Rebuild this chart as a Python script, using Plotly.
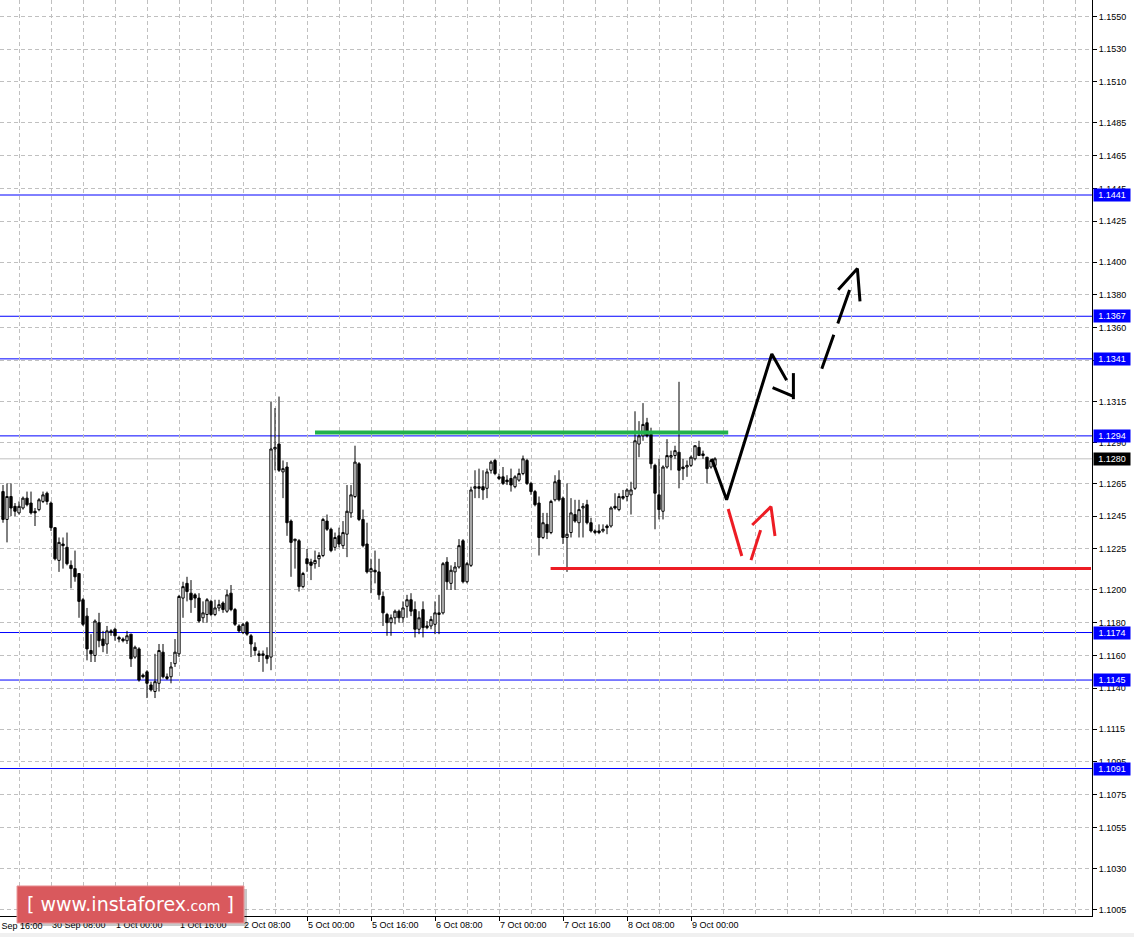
import plotly.graph_objects as go

# bar index: 0 = 29 Sep 16:00, one bar per hour (weekend skipped)
BAR_START = 4
OPEN = [
    1.1260, 1.1243, 1.1257, 1.1251, 1.1247, 1.1250, 1.1256, 1.1253, 1.1248, 1.1249,
    1.1254, 1.1259, 1.1253, 1.1238, 1.1218, 1.1228, 1.1226, 1.1215, 1.1213, 1.1210,
    1.1194, 1.1184, 1.1163, 1.1160, 1.1180, 1.1170, 1.1167, 1.1175, 1.1176, 1.1171,
    1.1170, 1.1169, 1.1173, 1.1159, 1.1164, 1.1148, 1.1150, 1.1142, 1.1138, 1.1143,
    1.1162, 1.1147, 1.1147, 1.1155, 1.1161, 1.1195, 1.1204, 1.1198, 1.1197, 1.1195,
    1.1183, 1.1185, 1.1193, 1.1185, 1.1189, 1.1192, 1.1187, 1.1198, 1.1188, 1.1178,
    1.1174, 1.1180, 1.1172, 1.1165, 1.1161, 1.1160, 1.1160, 1.1159, 1.1286, 1.1289,
    1.1272, 1.1275, 1.1242, 1.1230, 1.1230, 1.1202, 1.1219, 1.1217, 1.1216, 1.1219,
    1.1221, 1.1242, 1.1237, 1.1226, 1.1233, 1.1227, 1.1234, 1.1247, 1.1257, 1.1277,
    1.1243, 1.1228, 1.1211, 1.1212, 1.1211, 1.1196, 1.1185, 1.1180, 1.1183, 1.1187,
    1.1183, 1.1190, 1.1194, 1.1188, 1.1176, 1.1188, 1.1177, 1.1178, 1.1179, 1.1185,
    1.1186, 1.1217, 1.1204, 1.1211, 1.1214, 1.1230, 1.1205, 1.1215, 1.1262, 1.1263,
    1.1263, 1.1262, 1.1273, 1.1279, 1.1269, 1.1269, 1.1267, 1.1268, 1.1263, 1.1267,
    1.1271, 1.1279, 1.1265, 1.1260, 1.1253, 1.1232, 1.1240, 1.1235, 1.1255, 1.1267,
    1.1256, 1.1232, 1.1235, 1.1246, 1.1241, 1.1250, 1.1252, 1.1241, 1.1235, 1.1236,
    1.1236, 1.1239, 1.1239, 1.1251, 1.1249, 1.1257, 1.1257, 1.1258, 1.1262, 1.1289,
    1.1294, 1.1302, 1.1295, 1.1276, 1.1258, 1.1248, 1.1275, 1.1281, 1.1282, 1.1284,
    1.1275, 1.1275, 1.1276, 1.1280, 1.1287, 1.1283, 1.1281, 1.1275, 1.1276,
]
HIGH = [
    1.1264, 1.1265, 1.1265, 1.1253, 1.1254, 1.1257, 1.1260, 1.1260, 1.1250, 1.1256,
    1.1260, 1.1260, 1.1254, 1.1238, 1.1232, 1.1232, 1.1235, 1.1218, 1.1224, 1.1210,
    1.1195, 1.1189, 1.1173, 1.1182, 1.1186, 1.1175, 1.1178, 1.1176, 1.1177, 1.1172,
    1.1171, 1.1175, 1.1173, 1.1166, 1.1165, 1.1149, 1.1151, 1.1144, 1.1161, 1.1167,
    1.1167, 1.1149, 1.1156, 1.1170, 1.1197, 1.1205, 1.1208, 1.1206, 1.1198, 1.1198,
    1.1193, 1.1195, 1.1194, 1.1194, 1.1194, 1.1193, 1.1200, 1.1203, 1.1189, 1.1179,
    1.1180, 1.1181, 1.1173, 1.1168, 1.1163, 1.1163, 1.1165, 1.1315, 1.1311, 1.1318,
    1.1279, 1.1278, 1.1243, 1.1231, 1.1231, 1.1211, 1.1225, 1.1219, 1.1224, 1.1223,
    1.1244, 1.1246, 1.1238, 1.1235, 1.1238, 1.1242, 1.1264, 1.1264, 1.1288, 1.1278,
    1.1249, 1.1241, 1.1219, 1.1224, 1.1219, 1.1199, 1.1186, 1.1185, 1.1188, 1.1188,
    1.1193, 1.1197, 1.1198, 1.1193, 1.1187, 1.1193, 1.1181, 1.1184, 1.1193, 1.1197,
    1.1217, 1.1220, 1.1215, 1.1217, 1.1231, 1.1231, 1.1217, 1.1263, 1.1273, 1.1274,
    1.1273, 1.1274, 1.1279, 1.1280, 1.1271, 1.1275, 1.1270, 1.1274, 1.1270, 1.1274,
    1.1282, 1.1280, 1.1266, 1.1261, 1.1257, 1.1247, 1.1247, 1.1255, 1.1270, 1.1273,
    1.1257, 1.1265, 1.1256, 1.1255, 1.1255, 1.1253, 1.1255, 1.1244, 1.1237, 1.1240,
    1.1240, 1.1240, 1.1251, 1.1259, 1.1259, 1.1261, 1.1262, 1.1266, 1.1309, 1.1303,
    1.1314, 1.1305, 1.1299, 1.1277, 1.1280, 1.1276, 1.1292, 1.1285, 1.1288, 1.1327,
    1.1280, 1.1279, 1.1282, 1.1288, 1.1291, 1.1285, 1.1281, 1.1280, 1.1281,
]
LOW = [
    1.1241, 1.1229, 1.1245, 1.1245, 1.1246, 1.1249, 1.1251, 1.1246, 1.1239, 1.1248,
    1.1253, 1.1252, 1.1236, 1.1218, 1.1211, 1.1213, 1.1215, 1.1201, 1.1205, 1.1183,
    1.1178, 1.1157, 1.1156, 1.1156, 1.1165, 1.1162, 1.1161, 1.1172, 1.1169, 1.1168,
    1.1168, 1.1167, 1.1153, 1.1158, 1.1144, 1.1146, 1.1134, 1.1138, 1.1134, 1.1138,
    1.1146, 1.1145, 1.1143, 1.1153, 1.1159, 1.1183, 1.1193, 1.1186, 1.1189, 1.1180,
    1.1180, 1.1180, 1.1184, 1.1184, 1.1187, 1.1186, 1.1186, 1.1187, 1.1178, 1.1174,
    1.1173, 1.1172, 1.1159, 1.1160, 1.1156, 1.1150, 1.1155, 1.1151, 1.1273, 1.1272,
    1.1256, 1.1233, 1.1208, 1.1213, 1.1199, 1.1201, 1.1211, 1.1206, 1.1213, 1.1214,
    1.1220, 1.1236, 1.1223, 1.1224, 1.1226, 1.1225, 1.1220, 1.1244, 1.1256, 1.1242,
    1.1226, 1.1210, 1.1198, 1.1204, 1.1194, 1.1178, 1.1172, 1.1172, 1.1179, 1.1180,
    1.1180, 1.1183, 1.1184, 1.1171, 1.1173, 1.1171, 1.1176, 1.1176, 1.1173, 1.1173,
    1.1185, 1.1200, 1.1200, 1.1200, 1.1213, 1.1204, 1.1204, 1.1214, 1.1256, 1.1256,
    1.1255, 1.1256, 1.1271, 1.1270, 1.1267, 1.1264, 1.1264, 1.1260, 1.1262, 1.1266,
    1.1270, 1.1264, 1.1258, 1.1251, 1.1221, 1.1231, 1.1231, 1.1234, 1.1254, 1.1254,
    1.1228, 1.1211, 1.1232, 1.1241, 1.1232, 1.1232, 1.1240, 1.1235, 1.1234, 1.1234,
    1.1235, 1.1234, 1.1238, 1.1249, 1.1248, 1.1255, 1.1254, 1.1246, 1.1261, 1.1281,
    1.1291, 1.1293, 1.1274, 1.1237, 1.1243, 1.1243, 1.1274, 1.1273, 1.1280, 1.1262,
    1.1267, 1.1269, 1.1275, 1.1279, 1.1282, 1.1280, 1.1265, 1.1274, 1.1275,
]
CLOSE = [
    1.1243, 1.1257, 1.1250, 1.1248, 1.1251, 1.1256, 1.1252, 1.1247, 1.1247, 1.1255,
    1.1258, 1.1254, 1.1238, 1.1219, 1.1229, 1.1227, 1.1216, 1.1213, 1.1208, 1.1193,
    1.1179, 1.1164, 1.1161, 1.1181, 1.1169, 1.1166, 1.1175, 1.1174, 1.1172, 1.1170,
    1.1169, 1.1172, 1.1158, 1.1165, 1.1145, 1.1147, 1.1143, 1.1139, 1.1144, 1.1163,
    1.1147, 1.1146, 1.1153, 1.1162, 1.1196, 1.1202, 1.1199, 1.1194, 1.1195, 1.1181,
    1.1186, 1.1194, 1.1185, 1.1189, 1.1191, 1.1188, 1.1197, 1.1188, 1.1179, 1.1175,
    1.1179, 1.1173, 1.1167, 1.1163, 1.1160, 1.1161, 1.1158, 1.1286, 1.1287, 1.1273,
    1.1274, 1.1241, 1.1229, 1.1231, 1.1202, 1.1210, 1.1216, 1.1215, 1.1218, 1.1221,
    1.1243, 1.1237, 1.1224, 1.1232, 1.1228, 1.1235, 1.1248, 1.1258, 1.1278, 1.1243,
    1.1227, 1.1211, 1.1213, 1.1211, 1.1197, 1.1186, 1.1180, 1.1183, 1.1187, 1.1183,
    1.1189, 1.1194, 1.1187, 1.1176, 1.1183, 1.1177, 1.1178, 1.1182, 1.1186, 1.1186,
    1.1216, 1.1205, 1.1212, 1.1214, 1.1227, 1.1205, 1.1216, 1.1261, 1.1263, 1.1262,
    1.1261, 1.1272, 1.1278, 1.1271, 1.1268, 1.1265, 1.1266, 1.1264, 1.1269, 1.1271,
    1.1280, 1.1265, 1.1260, 1.1252, 1.1232, 1.1241, 1.1235, 1.1254, 1.1266, 1.1255,
    1.1232, 1.1234, 1.1247, 1.1242, 1.1249, 1.1251, 1.1241, 1.1236, 1.1236, 1.1235,
    1.1237, 1.1238, 1.1250, 1.1250, 1.1257, 1.1256, 1.1261, 1.1261, 1.1291, 1.1294,
    1.1301, 1.1294, 1.1277, 1.1259, 1.1249, 1.1275, 1.1282, 1.1282, 1.1285, 1.1273,
    1.1274, 1.1276, 1.1281, 1.1288, 1.1282, 1.1282, 1.1274, 1.1279, 1.1280,
]

BLUE_LEVELS = [1.1441, 1.1367, 1.1341, 1.1294, 1.1174, 1.1145, 1.1091]
LAST_PRICE = 1.1280

PRICE_TICKS = [1.1550, 1.1530, 1.1510, 1.1485, 1.1465, 1.1445, 1.1425, 1.1400, 1.1380,
               1.1360, 1.1340, 1.1315, 1.1290, 1.1265, 1.1245, 1.1225, 1.1200, 1.1180,
               1.1160, 1.1140, 1.1115, 1.1095, 1.1075, 1.1055, 1.1030, 1.1005]
TIME_LABELS = ['29 Sep 16:00', '30 Sep 08:00', '1 Oct 00:00', '1 Oct 16:00', '2 Oct 08:00',
               '5 Oct 00:00', '5 Oct 16:00', '6 Oct 08:00', '7 Oct 00:00', '7 Oct 16:00',
               '8 Oct 08:00', '9 Oct 00:00']
TIME_STEP = 16

# analyst drawings (bar index, price)
GREEN_LINE = ([82, 185.3], [1.1296, 1.1296])
RED_LINE = ([140.9, 276], [1.1213, 1.1213])
BLACK_PATH = ([181.2, 184.9, 196.2, 199.9, None, 196.4, 201.75, None, 201.6, 201.6],
              [1.1280, 1.1255, 1.1344, 1.1328, None, 1.13235, 1.1318, None, 1.13323, 1.13164])
BLACK_DASH = ([208.7, 215.65], [1.1335, 1.1383])
BLACK_DASH_HEAD = ([212.8, 217.6, 218.25], [1.13832, 1.13961, 1.13761])
RED_PATH = ([185.3, 188.7, None, 191.0, 193.4, None, 191.3, 196.0, 197.0],
            [1.12494, 1.12207, None, 1.12182, 1.12365, None, 1.12396, 1.12508, 1.12329])

X_RANGE = [3.25, 276.25]
Y_RANGE = [1.1001, 1.1560]
FONT = 'Liberation Sans'

bars = list(range(BAR_START, BAR_START + len(CLOSE)))

fig = go.Figure()
fig.add_trace(go.Candlestick(
    x=bars, open=OPEN, high=HIGH, low=LOW, close=CLOSE,
    increasing=dict(line=dict(color='black', width=1), fillcolor='white'),
    decreasing=dict(line=dict(color='black', width=1), fillcolor='black'),
    whiskerwidth=0, hoverinfo='skip',
))


def add_path(xs, ys, color, width, dash='solid'):
    fig.add_trace(go.Scatter(x=xs, y=ys, mode='lines', hoverinfo='skip',
                             line=dict(color=color, width=width, dash=dash)))


add_path(*GREEN_LINE, '#22b14c', 4)
add_path(*RED_LINE, '#ed1c24', 3)
add_path(*BLACK_PATH, 'black', 3)
add_path(*BLACK_DASH, 'black', 3, dash='36px,12px')
add_path(*BLACK_DASH_HEAD, 'black', 3)
add_path(*RED_PATH, '#ed1c24', 3)

shapes = []
for lvl in BLUE_LEVELS:
    shapes.append(dict(type='line', xref='paper', x0=0, x1=1, yref='y', y0=lvl, y1=lvl,
                       line=dict(color='#0000ff', width=1), layer='between'))
shapes.append(dict(type='line', xref='paper', x0=0, x1=1, yref='y', y0=LAST_PRICE, y1=LAST_PRICE,
                   line=dict(color='#c0c0c0', width=1), layer='between'))

# watermark with shadow, bottom window strip
shapes.append(dict(type='rect', xref='paper', yref='paper', x0=0.0185, x1=0.2262, y0=-0.0109, y1=0.0295,
                   fillcolor='rgba(0,0,0,0.22)', line=dict(width=0), layer='above'))
shapes.append(dict(type='rect', xref='paper', yref='paper', x0=0.0156, x1=0.2234, y0=-0.0076, y1=0.0328,
                   fillcolor='#d9595d', line=dict(color='#e99295', width=1), layer='above'))
shapes.append(dict(type='rect', xref='paper', yref='paper', x0=-0.01, x1=1.05, y0=-0.0235, y1=-0.0186,
                   fillcolor='#f0f0f0', line=dict(width=0), layer='above'))

annotations = []
for lvl in BLUE_LEVELS + [LAST_PRICE]:
    annotations.append(dict(
        xref='paper', x=1, xanchor='left', xshift=1, yref='y', y=lvl, yanchor='middle',
        text=f'{lvl:.4f}', showarrow=False, width=34, height=10, borderpad=1,
        bgcolor='black' if lvl == LAST_PRICE else '#0000ff',
        font=dict(family=FONT, size=9, color='white'),
    ))
# first time label sits left of the visible area, clipped by the window
annotations.append(dict(
    xref='paper', x=(0 - X_RANGE[0]) / (X_RANGE[1] - X_RANGE[0]), xanchor='left',
    yref='paper', y=0, yanchor='top', yshift=-3, text=TIME_LABELS[0], showarrow=False,
    font=dict(family=FONT, size=9, color='black'),
))
annotations.append(dict(
    xref='paper', x=0.1195, yref='paper', y=0.0126, xanchor='center', yanchor='middle',
    text='[ www.instaforex<span style="font-size:14px">.com</span> ]', showarrow=False,
    font=dict(family='DejaVu Sans', size=19, color='white'),
))

fig.update_layout(
    width=1134, height=937,
    margin=dict(l=0, r=42, t=0, b=21),
    paper_bgcolor='white', plot_bgcolor='white',
    showlegend=False, hovermode=False, boxgap=0.18,
    shapes=shapes, annotations=annotations,
)
fig.update_xaxes(
    range=X_RANGE, rangeslider_visible=False,
    tickmode='array', tickvals=[k * TIME_STEP for k in range(len(TIME_LABELS))], ticktext=TIME_LABELS,
    ticks='outside', ticklen=4, tickcolor='black', ticklabelposition='outside right',
    showline=True, linecolor='black', linewidth=1, zeroline=False,
    showgrid=True, gridcolor='#c0c0c0', griddash='4px,3px', gridwidth=1,
    minor=dict(dtick=TIME_STEP // 2, tick0=0, showgrid=True, gridcolor='#c0c0c0', griddash='4px,3px', ticks=''),
    tickfont=dict(family=FONT, size=9, color='black'),
)
fig.update_yaxes(
    range=Y_RANGE, side='right',
    tickmode='array', tickvals=PRICE_TICKS, ticktext=[f'{v:.4f}' for v in PRICE_TICKS],
    ticks='outside', ticklen=4, tickcolor='black',
    showline=True, linecolor='black', linewidth=1, zeroline=False,
    showgrid=True, gridcolor='#c0c0c0', griddash='4px,3px', gridwidth=1,
    tickfont=dict(family=FONT, size=9, color='black'),
)

fig.write_html('out.html', config={'displayModeBar': False},
               post_script="document.body.style.margin='0';document.body.style.overflow='hidden';")
